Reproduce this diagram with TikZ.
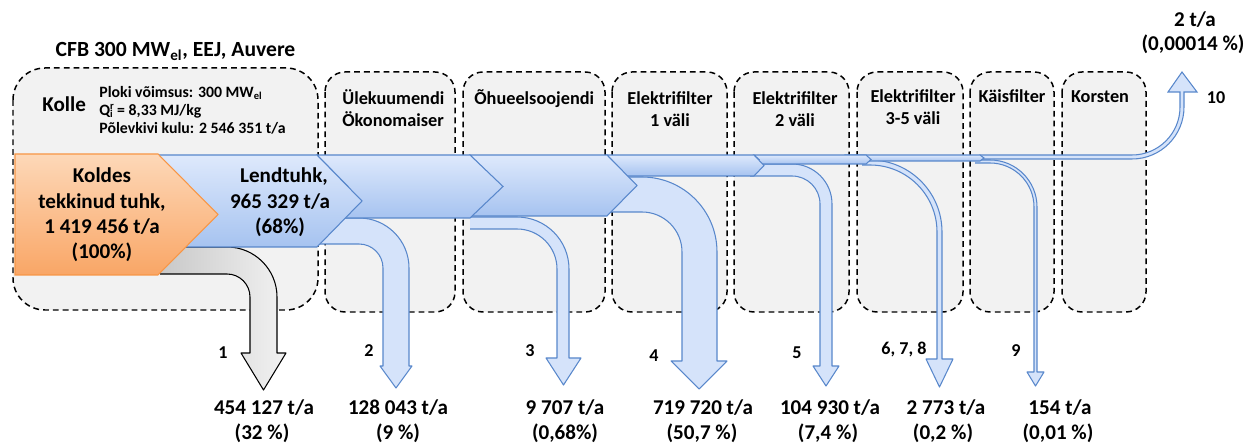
\documentclass[tikz,border=0pt]{standalone}
\usepackage{fontspec}
\setmainfont{Carlito}
\definecolor{boxfill}{RGB}{242,242,242}
\definecolor{bline}{RGB}{88,135,203}
\definecolor{btop}{RGB}{222,233,252}
\definecolor{bbot}{RGB}{166,195,240}
\definecolor{bpipe}{RGB}{213,227,250}
\definecolor{otop}{RGB}{253,216,184}
\definecolor{obot}{RGB}{249,166,102}
\definecolor{oline}{RGB}{247,150,70}
\definecolor{gleft}{RGB}{200,200,200}
\definecolor{gright}{RGB}{242,242,242}
\newcommand\downpipe[9]{%
  \path[curfill] (#1,{#3-#4}) -- (#2,{#3-#4}) arc[start angle=-90,end angle=0,radius=#4]
  -- ({#2+#4},#6) -- (#8,#6) -- ({(#7+#8)/2},#9) -- (#7,#6) -- ({#2+#5},#6)
  -- ({#2+#5},#3) arc[start angle=0,end angle=-90,radius=#5] -- (#1,{#3-#5}) -- cycle;
  \path[curline] (#1,{#3-#4}) -- (#2,{#3-#4}) arc[start angle=-90,end angle=0,radius=#4]
  -- ({#2+#4},#6) -- (#8,#6) -- ({(#7+#8)/2},#9) -- (#7,#6) -- ({#2+#5},#6)
  -- ({#2+#5},#3) arc[start angle=0,end angle=-90,radius=#5] -- (#1,{#3-#5});}
\tikzset{
  box/.style={draw=black, fill=boxfill, dash pattern=on 3.3pt off 2.3pt, line width=0.85pt, rounded corners=0.4cm},
  mainband/.style={draw=bline, line width=0.6pt, top color=btop, bottom color=bbot},
  bluepipe/.style={draw=bline, line width=0.6pt, fill=bpipe},
  bluefill/.style={fill=bpipe},
  blueline/.style={draw=bline, line width=0.6pt, line join=round},
  grayfill/.style={left color=gleft, right color=gright},
  grayline/.style={draw=black, line width=0.6pt, line join=round},
  lbl/.style={inner sep=0pt, font=\fontsize{12}{14}\selectfont\bfseries},
  boxlbl/.style={inner sep=0pt, font=\fontsize{10.4}{12}\selectfont\bfseries},
  smalllbl/.style={inner sep=0pt, font=\fontsize{9}{10}\selectfont\bfseries},
  numlbl/.style={inner sep=0pt, font=\fontsize{10.3}{12}\selectfont\bfseries},
}
\begin{document}
\begin{tikzpicture}[x=0.02cm,y=-0.02cm]
\useasboundingbox (0,0) rectangle (1247,445);
% stage boxes
\draw[box, rounded corners=0.64cm] (13,68) rectangle (318,310);
\draw[box] (325,72) rectangle (455,312);
\draw[box] (463,72) rectangle (605,312);
\draw[box] (612,72) rectangle (727,312);
\draw[box] (734,72) rectangle (849,312);
\draw[box] (857,72) rectangle (963,312);
\draw[box] (970,72) rectangle (1054,312);
\draw[box] (1062,72) rectangle (1146,312);
% branches
\tikzset{curfill/.style=grayfill, curline/.style=grayline}
\downpipe{160}{227}{297}{50}{23}{353}{241}{286}{390}
\tikzset{curfill/.style=bluefill, curline/.style=blueline}
\downpipe{300}{359}{268}{50}{24}{366}{380}{412}{388}
\downpipe{470}{517}{269}{52}{40}{358}{546}{581}{385}
\downpipe{605}{642}{252}{75}{40}{361}{671}{727}{389}
\downpipe{750}{792}{204}{40}{28}{366}{813}{839}{386}
\downpipe{862}{870}{232}{72}{67}{359}{926}{953}{387}
\downpipe{975}{990}{207}{47}{44}{372}{1027}{1044}{386}
% branch 10 (up to the stack)
\path[bluepipe] (980,155) -- (1132,155) arc[start angle=90,end angle=0,radius=48]
  -- (1180,92) -- (1168,92) -- (1182,72) -- (1197,92) -- (1184,92) -- (1184,107)
  arc[start angle=0,end angle=90,radius=52] -- (980,159) -- cycle;
% main bands
\path[mainband] (845,155) -- (980,155) -- (984,158) -- (980,161) -- (845,161) -- cycle;
\path[mainband] (754,155) -- (866,155) -- (871,159.5) -- (866,164) -- (754,164) -- (759,159.5) -- cycle;
\path[mainband] (607,155) -- (754,155) -- (764,165.5) -- (754,176) -- (607,176) -- (617,165.5) -- cycle;
\path[mainband] (470,155) -- (607,155) -- (637,185.5) -- (607,216) -- (470,216) -- (500,185.5) -- cycle;
\path[mainband] (317,155) -- (470,155) -- (503,186.5) -- (470,218) -- (317,218) -- (348,186.5) -- cycle;
\path[mainband] (150,155) -- (317,155) -- (362,201) -- (317,247) -- (150,247) -- cycle;
\path[draw=oline, line width=0.6pt, top color=otop, bottom color=obot]
  (15,154) -- (158,154) -- (218,214.5) -- (158,275) -- (15,275) -- cycle;
% titles
\node[lbl, font=\fontsize{12.3}{14}\selectfont\bfseries, anchor=base] (title) at (175.5,57) {CFB 300 MW\textsubscript{el}, EEJ, Auvere};
\node[lbl, anchor=base west] (kolle) at (42,112) {Kolle};
\node[smalllbl, anchor=base west] (p1) at (99,98) {Ploki võimsus: 300 MW\textsubscript{el}};
\node[smalllbl, anchor=base west] (p2) at (99,116) {Q\rlap{\textsuperscript{r}}\textsubscript{i} = 8,33 MJ/kg};
\node[smalllbl, anchor=base west] (p3) at (99,134) {Põlevkivi kulu: 2 546 351 t/a};
\node[boxlbl, anchor=base west] (ul1) at (342,105) {Ülekuumendi};
\node[boxlbl, anchor=base west] (ul2) at (342,127) {Ökonomaiser};
\node[boxlbl, anchor=base west] (oh) at (474,105) {Õhueelsoojendi};
\node[boxlbl, anchor=base] (e1a) at (670,105) {Elektrifilter};
\node[boxlbl, anchor=base] (e1b) at (670,127) {1 väli};
\node[boxlbl, anchor=base] (e2a) at (795,105) {Elektrifilter};
\node[boxlbl, anchor=base] (e2b) at (795,127) {2 väli};
\node[boxlbl, anchor=base] (e3a) at (913,103) {Elektrifilter};
\node[boxlbl, anchor=base] (e3b) at (913,125) {3-5 väli};
\node[boxlbl, anchor=base] (kf) at (1012,103) {Käisfilter};
\node[boxlbl, anchor=base] (ko) at (1100,103) {Korsten};
% flow labels
\node[lbl, anchor=base] (k1) at (102,183) {Koldes};
\node[lbl, anchor=base] (k2) at (102,208.5) {tekkinud tuhk,};
\node[lbl, anchor=base] (k3) at (102,234) {1 419 456 t/a};
\node[lbl, anchor=base] (k4) at (102,259) {(100\%)};
\node[lbl, anchor=base] (l1) at (284,183) {Lendtuhk,};
\node[lbl, anchor=base] (l2) at (280,208.5) {965 329 t/a};
\node[lbl, anchor=base] (l3) at (280,234) {(68\%)};
% branch numbers
\node[numlbl, anchor=base] (n1) at (223,359) {1};
\node[numlbl, anchor=base] (n2) at (369,357) {2};
\node[numlbl, anchor=base] (n3) at (530,357) {3};
\node[numlbl, anchor=base] (n4) at (654,362) {4};
\node[numlbl, anchor=base] (n5) at (797,359) {5};
\node[numlbl, anchor=base] (n6) at (904,355) {6, 7, 8};
\node[numlbl, anchor=base] (n9) at (1016,357) {9};
\node[numlbl, anchor=base] (n10) at (1216,104) {10};
% amounts
\node[lbl, anchor=base] (a1) at (264,415) {454 127 t/a};
\node[lbl, anchor=base] (b1) at (262,439) {(32 \%)};
\node[lbl, anchor=base] (a2) at (398,415) {128 043 t/a};
\node[lbl, anchor=base] (b2) at (398,439) {(9 \%)};
\node[lbl, anchor=base] (a3) at (565,415) {9 707 t/a};
\node[lbl, anchor=base] (b3) at (565,439) {(0,68\%)};
\node[lbl, anchor=base] (a4) at (703,415) {719 720 t/a};
\node[lbl, anchor=base] (b4) at (702,439) {(50,7 \%)};
\node[lbl, anchor=base] (a5) at (830,415) {104 930 t/a};
\node[lbl, anchor=base] (b5) at (828,439) {(7,4 \%)};
\node[lbl, anchor=base] (a6) at (946,415) {2 773 t/a};
\node[lbl, anchor=base] (b6) at (943,439) {(0,2 \%)};
\node[lbl, anchor=base] (a9) at (1060,415) {154 t/a};
\node[lbl, anchor=base] (b9) at (1058,439) {(0,01 \%)};
\node[lbl, anchor=base] (a10) at (1195,27) {2 t/a};
\node[lbl, anchor=base] (b10) at (1193,51) {(0,00014 \%)};
\end{tikzpicture}
\end{document}
